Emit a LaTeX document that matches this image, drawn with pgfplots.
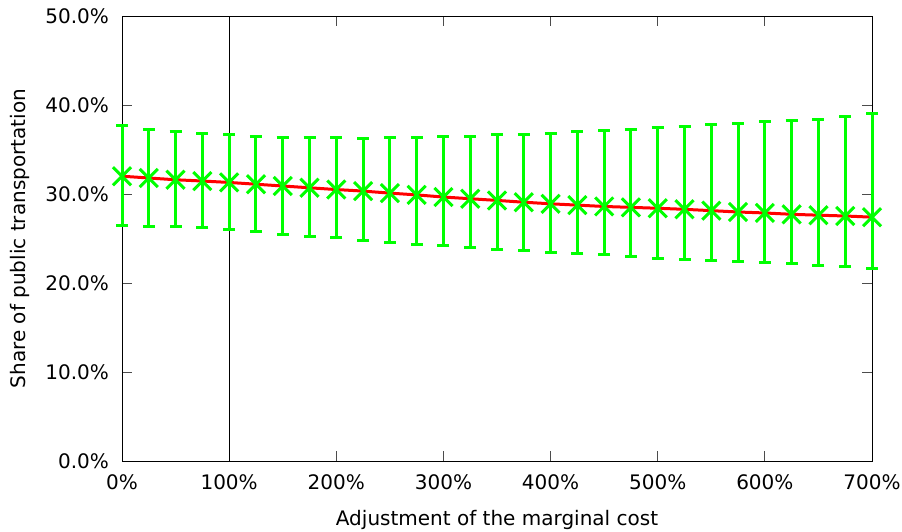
\documentclass[border=0pt]{standalone}
\usepackage{fontspec}
\setmainfont{DejaVu Sans}
\usepackage{pgfplots}
\pgfplotsset{compat=1.18}
\usepackage{pgfplotstable}

\definecolor{gpgreen}{RGB}{0,255,0}
\definecolor{gpred}{RGB}{255,0,0}

% x, y, upper end, lower end of the error bar (percent)
\pgfplotstableread{
x   y      hi     lo
0   32.00  37.75  26.50
25  31.80  37.30  26.40
50  31.60  37.00  26.30
75  31.46  36.80  26.20
100 31.30  36.66  26.00
125 31.10  36.50  25.80
150 30.90  36.40  25.50
175 30.70  36.35  25.20
200 30.50  36.30  25.06
225 30.33  36.25  24.80
250 30.10  36.30  24.57
275 29.90  36.40  24.34
300 29.66  36.46  24.16
325 29.47  36.50  23.97
350 29.28  36.66  23.80
375 29.08  36.74  23.60
400 28.90  36.80  23.48
425 28.75  36.97  23.30
450 28.60  37.10  23.15
475 28.50  37.26  22.97
500 28.40  37.45  22.80
525 28.28  37.60  22.66
550 28.13  37.80  22.55
575 27.98  37.90  22.40
600 27.87  38.10  22.30
625 27.72  38.27  22.17
650 27.62  38.40  22.02
675 27.53  38.70  21.80
700 27.40  39.00  21.60
}\share

\begin{document}
\begin{tikzpicture}
\begin{axis}[
    scale only axis,
    width=375pt,
    height=222.5pt,
    xmin=0, xmax=700,
    ymin=0, ymax=50,
    clip=false,
    axis line style={line width=0.5pt},
    tick align=inside,
    major tick length=5pt,
    tick style={line width=0.4pt, black!70},
    xtick={0,100,...,700},
    xticklabels={0\%,100\%,200\%,300\%,400\%,500\%,600\%,700\%},
    ytick={0,10,...,50},
    yticklabels={0.0\%,10.0\%,20.0\%,30.0\%,40.0\%,50.0\%},
    xlabel={Adjustment of the marginal cost},
    ylabel={Share of public transportation},
    every axis x label/.style={at={(rel axis cs:0.5,0)}, yshift=-29.5pt, anchor=center},
    every axis y label/.style={at={(rel axis cs:0,0.5)}, xshift=-51pt, rotate=90, anchor=center},
    xticklabel style={yshift=-3.5pt},
    yticklabel style={xshift=-3pt},
]
\coordinate (bbl) at (rel axis cs:-0.16267,-0.1573);
\coordinate (bbr) at (rel axis cs:1.04,1.036);

% reference line at 100%
\addplot[black, line width=0.5pt, forget plot] coordinates {(100,0) (100,50)};

% fitted line
\addplot[gpred, line width=1.5pt, no marks] table[x=x, y=y] {\share};

% points with error bars
\addplot[gpgreen, only marks, mark=x, mark size=6.4pt,
    mark options={line width=1.5pt},
    error bars/.cd,
        y dir=both, y explicit,
        error bar style={line width=1.5pt, gpgreen},
        error mark options={rotate=90, mark size=3pt, line width=1.5pt, gpgreen}]
    table[x=x, y=y,
          y error plus expr=\thisrow{hi}-\thisrow{y},
          y error minus expr=\thisrow{y}-\thisrow{lo}] {\share};
\end{axis}
\pgfresetboundingbox
\path (bbl) rectangle (bbr);
\end{tikzpicture}
\end{document}
